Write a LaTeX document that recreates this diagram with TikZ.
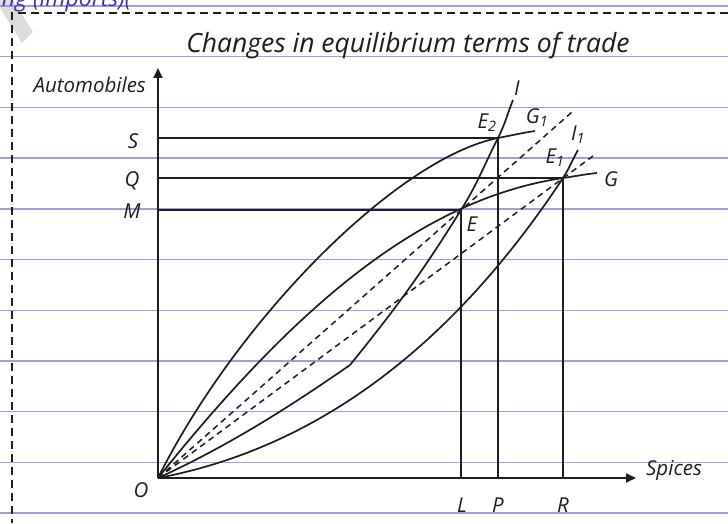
\documentclass[tikz,border=0pt]{standalone}
\usepackage{fontspec}
\setmainfont{Open Sans}
\usetikzlibrary{arrows.meta}

\definecolor{rulecol}{RGB}{166,158,210}
\definecolor{inkcol}{RGB}{30,30,30}
\definecolor{notecol}{RGB}{58,52,170}
\definecolor{markcol}{RGB}{220,220,220}

\tikzset{
  curve/.style={line width=1.7pt, draw=inkcol},
  guide/.style={line width=1.7pt, draw=inkcol},
  ray/.style={line width=1.5pt, draw=inkcol, dash pattern=on 6pt off 4.5pt},
  lbl/.style={font=\fontsize{20.5}{24}\selectfont\itshape, text=inkcol, inner sep=0pt},
}

\begin{document}
\begin{tikzpicture}[x=10pt,y=10pt]
  \clip (-15.8,-4.5) rectangle (57.0,47.8);

  % Page
  \fill[white] (-15.8,-4.5) rectangle (57.0,47.8);
  \fill[markcol] (-15.8,47.0) -- (-15.8,47.8) -- (-14.5,47.8) -- (-12.5,44.6) -- (-13.6,43.5) -- cycle;
  \foreach \k in {0,...,10}
    \draw[rulecol, line width=1.4pt] (-15.8,47.2-5.07*\k) -- (57.0,47.2-5.07*\k);
  \draw[inkcol, line width=1.5pt, dash pattern=on 8pt off 5pt] (57.0,46.5) -- (-14.6,46.5) -- (-14.6,-4.5);
  \node[anchor=base west, font=\fontsize{23}{26}\selectfont\itshape, text=notecol, inner sep=0pt] (note) at (-16.2,47.1) {ing (imports)(};

  % Title
  \node[anchor=base, font=\fontsize{26.5}{30}\selectfont\itshape, text=inkcol] (title) at (25.0,42.5) {Changes in equilibrium terms of trade};

  % Points
  \coordinate (O) at (0,0);
  \coordinate (E) at (30.3,26.8);
  \coordinate (E1) at (40.5,30.0);
  \coordinate (E2) at (34.0,34.0);
  \coordinate (K) at (19.2,11.3);
  \coordinate (ytop) at (0,41.0);
  \coordinate (xtip) at (47.8,0);

  % Axes
  \draw[guide, -{Triangle[length=10pt,width=9pt]}] (O) -- (ytop);
  \draw[guide, -{Triangle[length=10pt,width=9pt]}] (O) -- (xtip);

  % Guide lines
  \draw[guide] (E2 -| O) -- (E2) -- (E2 |- O);
  \draw[guide] (E1 -| O) -- (E1) -- (E1 |- O);
  \draw[guide] (E -| O) -- (E) -- (E |- O);

  % Terms of trade rays
  \draw[ray] (O) -- (41.4,36.6);
  \draw[ray] (O) -- (43.5,32.2);

  % Offer curves
  \draw[curve] (O) .. controls (8,16) and (24,32) .. (E2) to[out=11,in=189] (37.7,34.7);
  \draw[curve] (O) .. controls (14,17.5) and (26.5,27.9) .. (E1) to[out=8,in=186] (43.9,30.5);
  \draw[curve] (O) .. controls (7,3.2) and (13,7) .. (K) to[out=51,in=238] (E) to[out=58,in=243] (E2) to[out=63,in=248] (35.5,37.8);
  \draw[curve] (O) .. controls (18,3.4) and (31,15.6) .. (E1) to[out=57,in=240] (42.0,32.8);

  % Labels
  \node[lbl, anchor=east] (ylab) at (-1.2,39.3) {Automobiles};
  \node[lbl] (xlab) at (51.6,0.8) {Spices};
  \node[lbl] (lS) at (-2.5,33.7) {S};
  \node[lbl] (lQ) at (-2.6,29.7) {Q};
  \node[lbl] (lM) at (-2.6,26.7) {M};
  \node[lbl] (lO) at (-1.7,-1.2) {O};
  \node[lbl] (lL) at (30.4,-2.7) {L};
  \node[lbl] (lP) at (34.0,-2.7) {P};
  \node[lbl] (lR) at (40.5,-2.7) {R};
  \node[lbl] (lE) at (31.4,25.4) {E};
  \node[lbl] (lE1) at (39.7,32.0) {E\textsubscript{1}};
  \node[lbl] (lE2) at (32.9,35.5) {E\textsubscript{2}};
  \node[lbl] (lG) at (45.3,29.9) {G};
  \node[lbl] (lG1) at (37.9,36.0) {G\textsubscript{1}};
  \node[lbl] (lI) at (35.9,39.0) {I};
  \node[lbl] (lI1) at (42.0,34.3) {I\textsubscript{1}};
\end{tikzpicture}
\end{document}
